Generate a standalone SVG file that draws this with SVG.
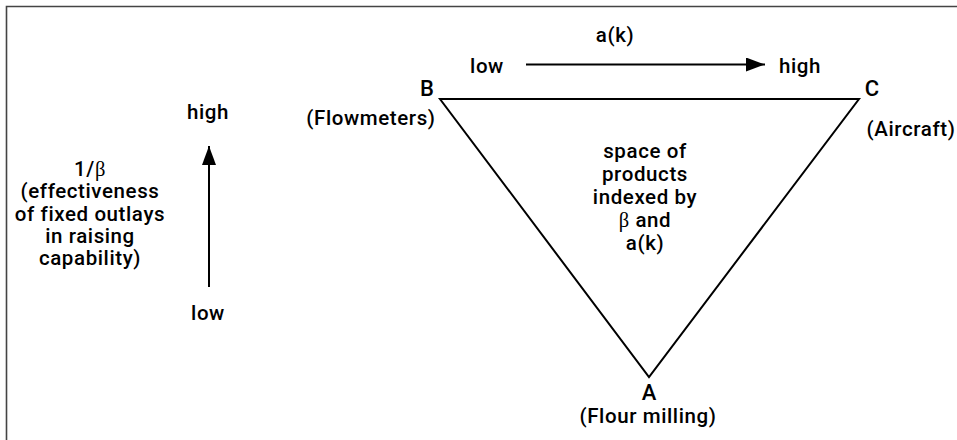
<svg xmlns="http://www.w3.org/2000/svg" width="957" height="440" viewBox="0 0 957 440">
  <style>
    .t { font-family: Roboto, "Liberation Sans", Arial, sans-serif; font-size: 20.5px; font-weight: 500; letter-spacing: 0.6px; fill: #000; text-anchor: middle; }
    .v { font-family: Roboto, "Liberation Sans", Arial, sans-serif; font-size: 22px; font-weight: 500; fill: #000; text-anchor: middle; }
    .g { font-family: "Liberation Serif", "Times New Roman", serif; font-weight: normal; }
    .ln { stroke: #000; stroke-width: 2; fill: none; }
  </style>
  <defs>
    <marker id="arr" markerWidth="19" markerHeight="14" refX="19" refY="7" orient="auto" markerUnits="userSpaceOnUse">
      <path d="M0,0 L19,7 L0,14 Z" fill="#000"/>
    </marker>
  </defs>
  <rect x="0" y="0" width="957" height="440" fill="#fff"/>
  <path d="M6.5,440 V6.5 H957" fill="none" stroke="#444" stroke-width="1.6"/>

  <g id="triangle">
    <polygon class="ln" points="440,99 859,99 649,377" stroke-linejoin="miter"/>
  </g>

  <g id="node-B">
    <text class="v" x="427" y="96">B</text>
    <text class="t" x="371" y="125">(Flowmeters)</text>
  </g>
  <g id="node-C">
    <text class="v" x="872" y="96">C</text>
    <text class="t" x="911" y="136">(Aircraft)</text>
  </g>
  <g id="node-A">
    <text class="v" x="649" y="400">A</text>
    <text class="t" x="648" y="423">(Flour milling)</text>
  </g>

  <g id="center-label">
    <text class="t" x="645" y="158">space of</text>
    <text class="t" x="645" y="181">products</text>
    <text class="t" x="645" y="204">indexed by</text>
    <text class="t" x="645" y="227"><tspan class="g">β</tspan> and</text>
    <text class="t" x="645" y="250">a(k)</text>
  </g>

  <g id="axis-labels">
    <text class="t" x="615" y="42">a(k)</text>
    <text class="t" x="487" y="73">low</text>
    <text class="t" x="800" y="73">high</text>
    <text class="t" x="208" y="119">high</text>
    <text class="t" x="208" y="320">low</text>
    <text class="t" x="90" y="176">1/<tspan class="g">β</tspan></text>
    <text class="t" x="90" y="198">(effectiveness</text>
    <text class="t" x="90" y="221">of fixed outlays</text>
    <text class="t" x="90" y="243">in raising</text>
    <text class="t" x="90" y="265">capability)</text>
  </g>

  <g id="connectors">
    <line class="ln" x1="526" y1="64.5" x2="765" y2="64.5" marker-end="url(#arr)"/>
    <line class="ln" x1="209" y1="287" x2="209" y2="146" marker-end="url(#arr)"/>
  </g>
</svg>
